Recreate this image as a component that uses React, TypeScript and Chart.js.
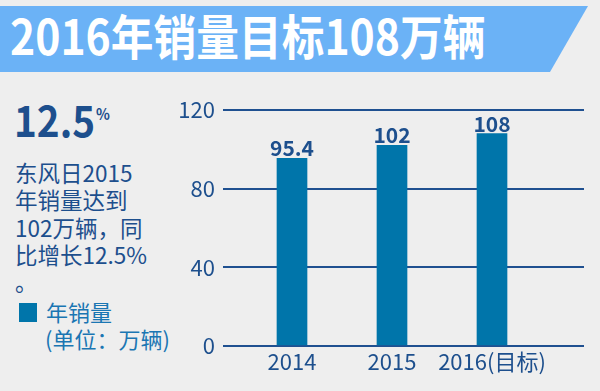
import React, { useEffect, useRef } from 'react';
import { Chart, registerables } from 'chart.js';

Chart.register(...registerables);

const categories = ['2014', '2015', '2016(目标)'];
const sales = [95.4, 102, 108];
const yTicks = [0, 40, 80, 120];
const seriesName = '年销量';
const unitLabel = '(单位：万辆)';
const titleText = '2016年销量目标108万辆';
const growthValue = '12.5';
const noteLines = ['东风日2015', '年销量达到', '102万辆，同', '比增长12.5%', '。'];

const FONT = "'Noto Sans CJK SC', 'Noto Sans', sans-serif";
const DARK = '#1d4f8d';
const BAR = '#0075aa';
const LEGEND_TEXT = '#1a76b3';

export default function App() {
  const ref = useRef<HTMLCanvasElement>(null);

  useEffect(() => {
    document.body.style.margin = '0';
    const labelPlugin = {
      id: 'valueLabels',
      afterDatasetsDraw(chart: any) {
        const ctx = chart.ctx;
        const meta = chart.getDatasetMeta(0);
        ctx.save();
        ctx.font = `bold 21px ${FONT}`;
        ctx.fillStyle = DARK;
        ctx.textAlign = 'center';
        ctx.textBaseline = 'alphabetic';
        meta.data.forEach((el: any, i: number) => {
          ctx.fillText(String(sales[i]), el.x, el.y - 2);
        });
        ctx.restore();
      },
    };
    const chart = new Chart(ref.current as HTMLCanvasElement, {
      type: 'bar',
      data: {
        datasets: [
          {
            label: seriesName,
            data: categories.map((_, i) => ({ x: i, y: sales[i] })),
            backgroundColor: BAR,
            barThickness: 30,
          },
        ],
      },
      options: {
        animation: false,
        responsive: false,
        layout: { padding: { left: 170, right: 16, top: 110, bottom: 0 } },
        plugins: { legend: { display: false }, tooltip: { enabled: false } },
        scales: {
          x: {
            type: 'linear',
            offset: false,
            min: -0.69,
            max: 2.92,
            grid: { display: false, drawTicks: false },
            border: { display: false },
            afterBuildTicks: (s: any) => {
              s.ticks = categories.map((_, i) => ({ value: i }));
            },
            afterFit: (s: any) => {
              s.height = 45;
            },
            ticks: {
              callback: (v: any) => categories[v] ?? '',
              font: { size: 22, family: FONT },
              color: DARK,
              padding: 2,
              maxRotation: 0,
              autoSkip: false,
            },
          },
          y: {
            min: 0,
            max: 120,
            afterBuildTicks: (s: any) => {
              s.ticks = yTicks.map((v) => ({ value: v }));
            },
            afterFit: (s: any) => {
              s.width = 53;
            },
            grid: { color: '#1f5090', lineWidth: 2, drawTicks: false },
            border: { display: false },
            ticks: { font: { size: 22, family: FONT }, color: DARK, padding: 8 },
          },
        },
      } as any,
      plugins: [labelPlugin],
    });
    return () => chart.destroy();
  }, []);

  return (
    <div
      style={{
        position: 'fixed',
        left: 0,
        top: 0,
        width: 600,
        height: 391,
        background: '#eeeeee',
        overflow: 'hidden',
        fontFamily: FONT,
      }}
    >
      <div
        style={{
          position: 'absolute',
          left: 0,
          top: 6,
          width: 588,
          height: 66,
          background: '#6bb2f6',
          clipPath: 'polygon(0 0, 588px 0, 550px 66px, 0 66px)',
        }}
      />
      <div
        style={{
          position: 'absolute',
          left: 10,
          top: 10,
          fontSize: 48,
          lineHeight: '48px',
          fontWeight: 'bold',
          color: '#ffffff',
          whiteSpace: 'nowrap',
          transform: 'scaleX(0.89)',
          transformOrigin: 'left center',
        }}
      >
        {titleText}
      </div>
      <div
        style={{
          position: 'absolute',
          left: 14,
          top: 94,
          fontSize: 43,
          lineHeight: '48px',
          fontWeight: 'bold',
          color: DARK,
          whiteSpace: 'nowrap',
          transform: 'scaleX(0.9)',
          transformOrigin: 'left center',
        }}
      >
        {growthValue}
        <span style={{ fontSize: 16, verticalAlign: 'top', lineHeight: '38px', marginLeft: 1 }}>%</span>
      </div>
      <div
        style={{
          position: 'absolute',
          left: 15,
          top: 159,
          fontSize: 22.5,
          lineHeight: '27.3px',
          color: DARK,
          whiteSpace: 'nowrap',
        }}
      >
        {noteLines.map((l, i) => (
          <div key={i}>{l}</div>
        ))}
      </div>
      <div
        style={{ position: 'absolute', left: 19, top: 303, width: 18, height: 19, background: BAR }}
      />
      <div
        style={{
          position: 'absolute',
          left: 46,
          top: 298,
          fontSize: 22,
          lineHeight: '27px',
          color: LEGEND_TEXT,
          whiteSpace: 'nowrap',
        }}
      >
        <div>{seriesName}</div>
        <div style={{ marginLeft: -1 }}>{unitLabel}</div>
      </div>
      <canvas
        ref={ref}
        width={600}
        height={391}
        style={{ position: 'absolute', left: 0, top: 0, width: 600, height: 391 }}
      />
    </div>
  );
}
